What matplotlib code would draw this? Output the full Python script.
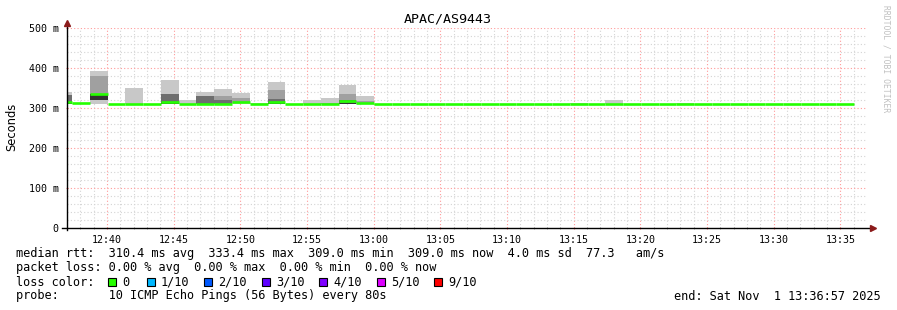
import numpy as np
import matplotlib
matplotlib.use("Agg")
import matplotlib.pyplot as plt
from matplotlib.patches import Rectangle

# ---------------- data ----------------
title = "APAC/AS9443"
step_min = 80 / 60.0                 # 80 s probe interval, in minutes
first_step_start = 37.375 - step_min  # minutes after 12:00
# median rtt per step (ms), 45 steps
median_rtt = [316, 312, 334, 309, 309, 309, 314, 311, 310, 311, 316, 309, 314,
              309, 309, 309, 318, 313] + [309] * 27
smoke_min = [309] * 45
smoke_max = [341, 313, 392, 309, 350, 309, 370, 320, 340, 347, 338, 313, 365,
             309, 320, 326, 358, 330] + [309] * 27
smoke_max[29] = 313
smoke_max[31] = 320
smoke_max[35] = 313
# inner smoke bands: step index, low, high (ms)
mid_idx = [2, 9, 10, 12, 15, 16, 17]
mid_lo = [320, 309, 312, 311, 309, 312, 310]
mid_hi = [380, 331, 326, 345, 313, 336, 318]
dark_idx = [0, 6, 8, 9, 12, 16]
dark_lo = [312, 310, 309, 309, 311, 312]
dark_hi = [332, 334, 331, 320, 322, 321]
black_idx = [0, 2, 6, 12, 16]
black_lo = [309, 320, 309, 309, 309]
black_hi = [312, 334, 313, 312, 313]

x_ticks = [40, 45, 50, 55, 60, 65, 70, 75, 80, 85, 90, 95]
x_labels = ["12:40", "12:45", "12:50", "12:55", "13:00", "13:05", "13:10",
            "13:15", "13:20", "13:25", "13:30", "13:35"]
y_ticks = [0, 100, 200, 300, 400, 500]
y_labels = ["0", "100 m", "200 m", "300 m", "400 m", "500 m"]

stat_lines = [
    "median rtt:  310.4 ms avg  333.4 ms max  309.0 ms min  309.0 ms now  4.0 ms sd  77.3   am/s",
    "packet loss: 0.00 % avg  0.00 % max  0.00 % min  0.00 % now",
]
loss_labels = ["0", "1/10", "2/10", "3/10", "4/10", "5/10", "9/10"]
loss_colors = ["#26ff00", "#00b8ff", "#0059ff", "#5e00ff", "#7e00ff", "#dd00ff", "#ff0000"]
probe_text = "probe:       10 ICMP Echo Pings (56 Bytes) every 80s"
end_text = "end: Sat Nov  1 13:36:57 2025"

# ---------------- figure ----------------
W, H = 897, 310
fig = plt.figure(figsize=(W / 100, H / 100), dpi=100)
fig.patch.set_facecolor("white")
ax = fig.add_axes([67 / W, 82 / H, 800 / W, 200 / H])
ax.set_xlim(37, 97)
ax.set_ylim(0, 500)

mono = "DejaVu Sans Mono"

# grid
for m in range(38, 97):
    if m % 5 == 0:
        ax.axvline(m, color="#ff9a9a", lw=0.8, ls=(0, (1, 2)), zorder=0)
    else:
        ax.axvline(m, color="#d4d4d4", lw=0.8, ls=(0, (1, 2)), zorder=0)
for v in range(20, 501, 20):
    if v % 100 == 0:
        ax.axhline(v, color="#ff9a9a", lw=0.8, ls=(0, (1, 2)), zorder=0)
    else:
        ax.axhline(v, color="#d4d4d4", lw=0.8, ls=(0, (1, 2)), zorder=0)

n = len(median_rtt)
starts = np.array([first_step_start + i * step_min for i in range(n)])
smin = np.array(smoke_min, float)
smax = np.array(smoke_max, float)
ax.bar(starts, smax - smin, width=step_min, bottom=smin, align="edge",
       color="#c8c8c8", lw=0, zorder=1)
ax.bar(starts[mid_idx], np.array(mid_hi) - np.array(mid_lo), width=step_min,
       bottom=mid_lo, align="edge", color="#a0a0a0", lw=0, zorder=2)
ax.bar(starts[dark_idx], np.array(dark_hi) - np.array(dark_lo), width=step_min,
       bottom=dark_lo, align="edge", color="#6e6e6e", lw=0, zorder=3)
ax.bar(starts[black_idx], np.array(black_hi) - np.array(black_lo), width=step_min,
       bottom=black_lo, align="edge", color="#333333", lw=0, zorder=4)
ax.hlines(median_rtt, starts, starts + step_min, color=loss_colors[0], lw=1.9,
          zorder=5)

# axes
for s in ax.spines.values():
    s.set_visible(False)
ax.plot([-0.006, 1.006], [0, 0], transform=ax.transAxes, color="black", lw=1,
        clip_on=False, zorder=6)
ax.plot([0, 0], [-0.01, 1.025], transform=ax.transAxes, color="black", lw=1,
        clip_on=False, zorder=6)
ax.plot([1.007], [0], transform=ax.transAxes, marker=">", ms=4, color="#8b1a1a",
        clip_on=False, zorder=7)
ax.plot([0], [1.027], transform=ax.transAxes, marker="^", ms=4, color="#8b1a1a",
        clip_on=False, zorder=7)

ax.set_xticks(x_ticks)
ax.set_xticklabels(x_labels, fontfamily=mono, fontsize=7.2)
ax.set_xticks(range(38, 97), minor=True)
ax.set_yticks(y_ticks)
ax.set_yticklabels(y_labels, fontfamily=mono, fontsize=7.2)
ax.tick_params(axis="x", which="major", length=2, width=0.8, color="#ff7070",
               direction="inout", pad=4)
ax.tick_params(axis="x", which="minor", length=2, width=0.6, color="#999999",
               direction="inout")
ax.tick_params(axis="y", which="major", length=2, width=0.8, color="#ff7070",
               direction="inout", pad=5)

def fx(px):
    return px / W

def fy(py):
    return 1 - py / H

fig.text(fx(448), fy(19), title, fontfamily=mono, fontsize=9.6, ha="center",
         va="center")
fig.text(fx(12), fy(127), "Seconds", fontfamily="DejaVu Sans", fontsize=8.3,
         rotation=90, ha="center", va="center")
fig.text(fx(886), fy(5), "RRDTOOL / TOBI OETIKER", fontfamily=mono, fontsize=5.8,
         rotation=270, ha="center", va="top", color="#c0c0c0")

fs = 8.52
fig.text(fx(16), fy(254), stat_lines[0], fontfamily=mono, fontsize=fs, va="center")
fig.text(fx(16), fy(268), stat_lines[1], fontfamily=mono, fontsize=fs, va="center")
fig.text(fx(16), fy(282), "loss color:", fontfamily=mono, fontsize=fs, va="center")
sq_x = [108, 147, 204, 262, 319, 377, 434]
for x0, lab, col in zip(sq_x, loss_labels, loss_colors):
    fig.add_artist(Rectangle((fx(x0), fy(286)), 8 / W, 8 / H, transform=fig.transFigure,
                             facecolor=col, edgecolor="black", lw=0.8))
    fig.text(fx(x0 + 14), fy(282), lab, fontfamily=mono, fontsize=fs, va="center")
fig.text(fx(16), fy(296), probe_text, fontfamily=mono, fontsize=fs, va="center")
fig.text(fx(881), fy(296), end_text, fontfamily=mono, fontsize=fs, va="center",
         ha="right")

fig.savefig("out.png", dpi=100)
